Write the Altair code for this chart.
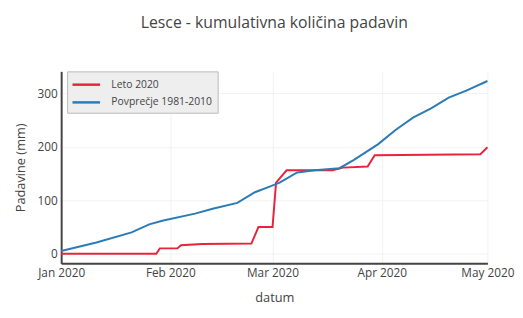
import altair as alt
import pandas as pd

red_dates = ["2020-01-01", "2020-01-28", "2020-01-29", "2020-02-03", "2020-02-04",
             "2020-02-10", "2020-02-24", "2020-02-26", "2020-03-01", "2020-03-02",
             "2020-03-05", "2020-03-18", "2020-03-21", "2020-03-28", "2020-03-30",
             "2020-04-29", "2020-05-01"]
red_vals = [0, 0, 10, 10, 16, 18, 19, 50, 50, 133, 156, 156, 161, 163, 184, 186, 199]

blue_dates = ["2020-01-01", "2020-01-11", "2020-01-21", "2020-01-26", "2020-01-30",
              "2020-02-08", "2020-02-13", "2020-02-20", "2020-02-25", "2020-02-29",
              "2020-03-03", "2020-03-08", "2020-03-13", "2020-03-20", "2020-03-24",
              "2020-03-31", "2020-04-05", "2020-04-10", "2020-04-15", "2020-04-20",
              "2020-04-25", "2020-05-01"]
blue_vals = [5, 21, 40, 55, 62, 75, 84, 95, 115, 125, 133, 152, 156, 160, 175,
             205, 232, 255, 272, 292, 305, 323]

series_names = ["Leto 2020", "Povprečje 1981-2010"]
series_colors = ["#e8243c", "#2c7bb6"]
y_ticks = [0, 100, 200, 300]

df = pd.concat([
    pd.DataFrame({"datum": red_dates, "val": red_vals, "serija": series_names[0]}),
    pd.DataFrame({"datum": blue_dates, "val": blue_vals, "serija": series_names[1]}),
])

month_ticks = [alt.DateTime(year=2020, month=m, date=1, utc=True) for m in range(1, 6)]

chart = alt.Chart(df).mark_line(strokeWidth=2).encode(
    x=alt.X("datum:T",
            scale=alt.Scale(type="utc", domain=[month_ticks[0], month_ticks[-1]]),
            axis=alt.Axis(values=month_ticks, format="%b %Y", title="datum",
                          titlePadding=14, labelFlush=False, labelOverlap=False)),
    y=alt.Y("val:Q", scale=alt.Scale(domain=[-18, 341], nice=False, zero=False),
            axis=alt.Axis(values=y_ticks, title="Padavine (mm)", titlePadding=10)),
    color=alt.Color("serija:N",
                    scale=alt.Scale(domain=series_names, range=series_colors),
                    legend=alt.Legend(title=None, orient="none", legendX=6, legendY=0,
                                      fillColor="#eeeeee", strokeColor="#bbbbbb",
                                      padding=5, symbolType="M-2,0L2,0", symbolSize=196,
                                      symbolOffset=6, symbolStrokeWidth=2.5,
                                      labelFontSize=10.5, rowPadding=4,
                                      labelColor="#444444", labelFont="Open Sans",
                                      labelOffset=17)),
    order=alt.Order("datum:T"),
).properties(
    width=433, height=195,
    title=alt.TitleParams("Lesce - kumulativna količina padavin", fontSize=16,
                          font="Open Sans", fontWeight="normal", color="#444444",
                          anchor="middle", offset=41),
    autosize=alt.AutoSizeParams(type="none"),
    padding={"left": 54, "top": 62, "right": 28, "bottom": 45},
).configure_axis(
    labelFont="Open Sans", labelFontSize=12, labelColor="#444444",
    titleFont="Open Sans", titleFontSize=13, titleColor="#444444",
    titleFontWeight="normal",
    domainColor="#444444", domainWidth=2, ticks=False, labelPadding=4,
    gridColor="#f2f2f2", gridWidth=1,
).configure_view(stroke=None)

chart.save("out.html", embed_options={"renderer": "svg", "actions": False})
